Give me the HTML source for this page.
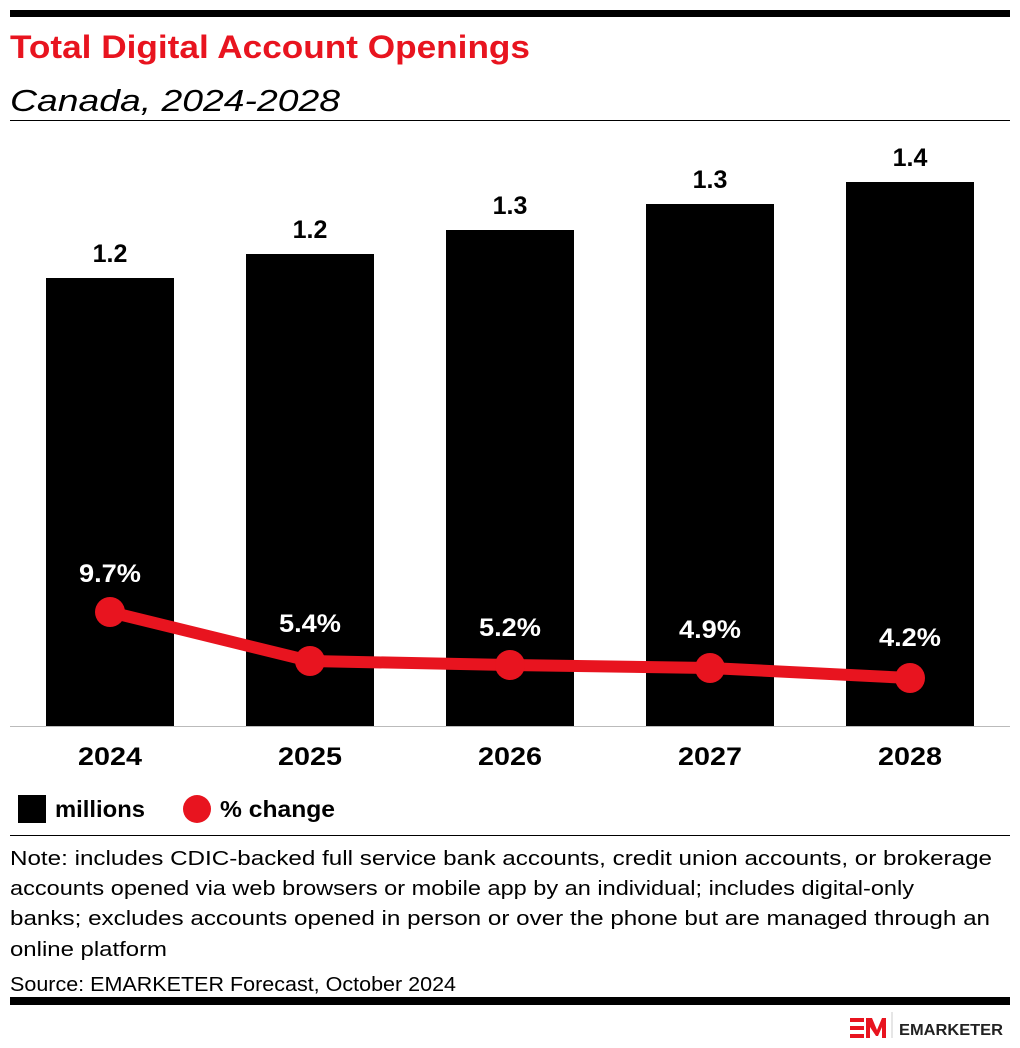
<!DOCTYPE html>
<html><head><style>
body{margin:0;width:1020px;height:1048px;background:#fff;font-family:"Liberation Sans",sans-serif;position:relative;overflow:hidden}
</style></head><body>
<svg style="position:absolute;left:0;top:0" width="1020" height="1048">
<rect x="10" y="10" width="1000" height="7" fill="#000"/>
<text x="10" y="58" font-family="Liberation Sans" font-weight="bold" font-size="32" fill="#e8141f" textLength="520" lengthAdjust="spacingAndGlyphs">Total Digital Account Openings</text>
<text x="10" y="111" font-family="Liberation Sans" font-style="italic" font-size="31" fill="#000" textLength="330" lengthAdjust="spacingAndGlyphs">Canada, 2024-2028</text>
<rect x="10" y="120" width="1000" height="1" fill="#000"/>
<g fill="#000">
<rect x="46" y="278" width="128" height="448"/>
<rect x="246" y="254" width="128" height="472"/>
<rect x="446" y="230" width="128" height="496"/>
<rect x="646" y="204" width="128" height="522"/>
<rect x="846" y="182" width="128" height="544"/>
</g>
<line x1="10" y1="726.5" x2="1010" y2="726.5" stroke="#bbb" stroke-width="1"/>
<g font-family="Liberation Sans" font-weight="bold" font-size="25" text-anchor="middle" fill="#000">
<text x="110" y="262">1.2</text><text x="310" y="238">1.2</text><text x="510" y="214">1.3</text><text x="710" y="188">1.3</text><text x="910" y="166">1.4</text>
</g>
<g font-family="Liberation Sans" font-weight="bold" font-size="25" text-anchor="middle" fill="#000">
<text x="110" y="765" textLength="64" lengthAdjust="spacingAndGlyphs">2024</text><text x="310" y="765" textLength="64" lengthAdjust="spacingAndGlyphs">2025</text><text x="510" y="765" textLength="64" lengthAdjust="spacingAndGlyphs">2026</text><text x="710" y="765" textLength="64" lengthAdjust="spacingAndGlyphs">2027</text><text x="910" y="765" textLength="64" lengthAdjust="spacingAndGlyphs">2028</text>
</g>
<polyline points="110,612 310,661 510,665 710,668 910,678" fill="none" stroke="#e8141f" stroke-width="12" stroke-linejoin="round"/>
<g fill="#e8141f"><circle cx="110" cy="612" r="15"/><circle cx="310" cy="661" r="15"/><circle cx="510" cy="665" r="15"/><circle cx="710" cy="668" r="15"/><circle cx="910" cy="678" r="15"/></g>
<g font-family="Liberation Sans" font-weight="bold" font-size="25" text-anchor="middle" fill="#fff">
<text x="110" y="582" textLength="62" lengthAdjust="spacingAndGlyphs">9.7%</text><text x="310" y="632" textLength="62" lengthAdjust="spacingAndGlyphs">5.4%</text><text x="510" y="636" textLength="62" lengthAdjust="spacingAndGlyphs">5.2%</text><text x="710" y="638" textLength="62" lengthAdjust="spacingAndGlyphs">4.9%</text><text x="910" y="646" textLength="62" lengthAdjust="spacingAndGlyphs">4.2%</text>
</g>
<rect x="18" y="795" width="28" height="28" fill="#000"/>
<text x="55" y="817" font-family="Liberation Sans" font-weight="bold" font-size="23" textLength="90" lengthAdjust="spacingAndGlyphs">millions</text>
<circle cx="197" cy="809" r="14" fill="#e8141f"/>
<text x="220" y="817" font-family="Liberation Sans" font-weight="bold" font-size="23" textLength="115" lengthAdjust="spacingAndGlyphs">% change</text>
<line x1="10" y1="835.5" x2="1010" y2="835.5" stroke="#000" stroke-width="1"/>
<g font-family="Liberation Sans" font-size="20" fill="#000">
<text x="10" y="865" textLength="982" lengthAdjust="spacingAndGlyphs">Note: includes CDIC-backed full service bank accounts, credit union accounts, or brokerage</text>
<text x="10" y="895" textLength="904" lengthAdjust="spacingAndGlyphs">accounts opened via web browsers or mobile app by an individual; includes digital-only</text>
<text x="10" y="925" textLength="980" lengthAdjust="spacingAndGlyphs">banks; excludes accounts opened in person or over the phone but are managed through an</text>
<text x="10" y="956" textLength="157" lengthAdjust="spacingAndGlyphs">online platform</text>
<text x="10" y="991" textLength="446" lengthAdjust="spacingAndGlyphs">Source: EMARKETER Forecast, October 2024</text>
</g>
<rect x="10" y="997" width="1000" height="8" fill="#000"/>
<g fill="#e8141f">
<rect x="850" y="1018" width="14" height="4"/><rect x="850" y="1026" width="14" height="4"/><rect x="850" y="1034" width="14" height="4"/>
<polygon points="866,1038 866,1018 872,1018 877,1030 882,1018 886,1018 886,1038 882,1038 882,1027 878,1036 876,1036 870,1027 870,1038"/>
</g>
<line x1="892" y1="1012" x2="892" y2="1038" stroke="#ccc"/>
<text x="899" y="1035" font-family="Liberation Sans" font-weight="bold" font-size="16" fill="#222" textLength="104" lengthAdjust="spacingAndGlyphs">EMARKETER</text>
</svg>
</body></html>
